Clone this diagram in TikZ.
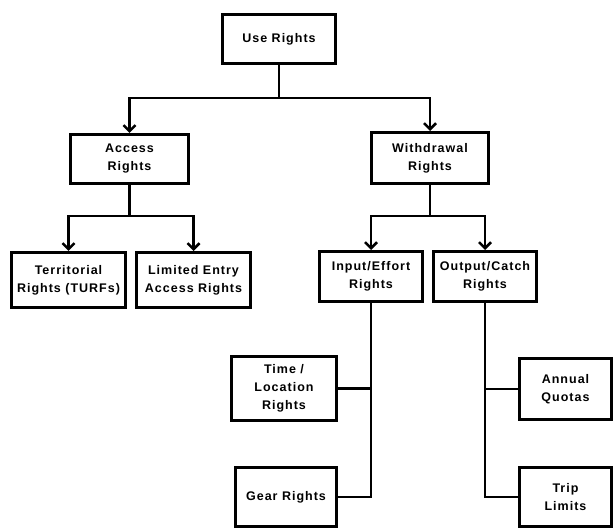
\documentclass[tikz,border=0pt]{standalone}
\usepackage{fontspec}
\setmainfont{Liberation Sans}[LetterSpace=8]
\usetikzlibrary{arrows.meta}
\begin{document}
\begin{tikzpicture}[x=1pt,y=-1pt,
  box/.style={draw,line width=3pt,rectangle,inner sep=0pt,align=center,
    font=\fontsize{12.5}{18}\selectfont\bfseries},
  conn/.style={line width=2.5pt},
  arr/.style={conn,-{Straight Barb[length=6pt,width=12pt,line width=2.5pt]}}]
\useasboundingbox (0,0) rectangle (616,529);
\node[box,minimum width=113pt,minimum height=49pt] (use) at (279,39) {Use Rights};
\node[box,minimum width=118pt,minimum height=49pt] (access) at (129.5,159) {Access\\Rights};
\node[box,minimum width=117pt,minimum height=51pt] (withdrawal) at (430,158) {Withdrawal\\Rights};
\node[box,minimum width=114pt,minimum height=55pt] (territorial) at (68.5,280) {Territorial\\Rights (TURFs)};
\node[box,minimum width=114pt,minimum height=55pt] (limited) at (193.5,280) {Limited Entry\\Access Rights};
\node[box,minimum width=103pt,minimum height=50pt] (input) at (371,276.5) {Input/Effort\\Rights};
\node[box,minimum width=103pt,minimum height=50pt] (output) at (485,276.5) {Output/Catch\\Rights};
\node[box,minimum width=105pt,minimum height=64pt] (time) at (284,388.5) {Time /\\Location\\Rights};
\node[box,minimum width=101pt,minimum height=59pt] (gear) at (286,497) {Gear Rights};
\node[box,minimum width=92pt,minimum height=61pt] (annual) at (565.5,389) {Annual\\Quotas};
\node[box,minimum width=92pt,minimum height=59pt] (trip) at (565.5,497) {Trip\\Limits};
\coordinate (j1) at (279,98);
\coordinate (j2) at (129.5,216);
\coordinate (j3) at (430,216);
\draw[conn] (use.south) -- (j1);
\draw[arr] (j1) -| (access.north);
\draw[arr] (j1) -| (withdrawal.north);
\draw[conn] (access.south) -- (j2);
\draw[arr] (j2) -| (territorial.north);
\draw[arr] (j2) -| (limited.north);
\draw[conn] (withdrawal.south) -- (j3);
\draw[arr] (j3) -| (input.north);
\draw[arr] (j3) -| (output.north);
\draw[conn] (input.south) |- (time.east);
\draw[conn] (input.south) |- (gear.east);
\draw[conn] (output.south) |- (annual.west);
\draw[conn] (output.south) |- (trip.west);
\end{tikzpicture}
\end{document}
